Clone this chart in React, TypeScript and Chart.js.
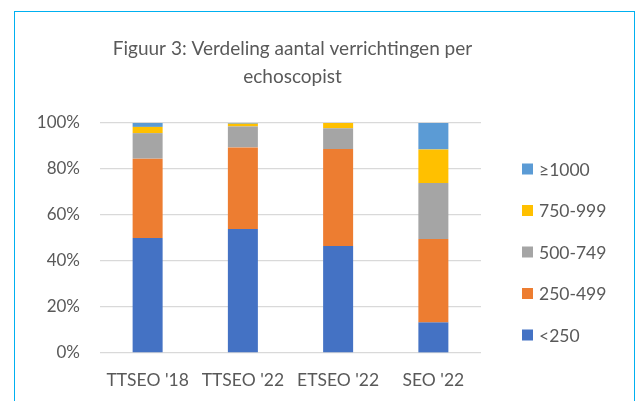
import React, { useEffect, useRef } from "react";
import { Chart, registerables } from "chart.js";

Chart.register(...registerables);

const categories = ["TTSEO '18", "TTSEO '22", "ETSEO '22", "SEO '22"];
const seriesNames = ["<250", "250-499", "500-749", "750-999", "≥1000"];
const lt250 = [50.0, 53.9, 46.5, 13.3];
const r250_499 = [34.5, 35.5, 42.2, 36.3];
const r500_749 = [11.1, 9.1, 9.0, 24.3];
const r750_999 = [2.7, 1.2, 2.3, 14.6];
const ge1000 = [1.7, 0.3, 0.0, 11.5];
const colors = ["#4472C4", "#ED7D31", "#A5A5A5", "#FFC000", "#5B9BD5"];
const titleLines = ["Figuur 3: Verdeling aantal verrichtingen per", "echoscopist"];
const yTicks = [0, 20, 40, 60, 80, 100];

const FONT = "Lato, 'Open Sans', sans-serif";
const TEXT = "#595959";

const titlePlugin = {
  id: "customTitle",
  afterDraw(chart: any) {
    const ctx = chart.ctx;
    ctx.save();
    ctx.fillStyle = TEXT;
    ctx.font = `19px ${FONT}`;
    ctx.textAlign = "center";
    ctx.textBaseline = "alphabetic";
    const cx = (chart.chartArea.left + chart.chartArea.right) / 2 + 2;
    titleLines.forEach((l, i) => ctx.fillText(l, cx, 55 + i * 28));
    ctx.restore();
  },
};

const legendPlugin = {
  id: "customLegend",
  afterDraw(chart: any) {
    const ctx = chart.ctx;
    const ds = chart.data.datasets;
    const x = chart.chartArea.right + 41;
    const y0 = 169;
    const gap = 41.5;
    ctx.save();
    ctx.font = `17.5px ${FONT}`;
    ctx.textBaseline = "middle";
    ctx.textAlign = "left";
    for (let k = 0; k < ds.length; k++) {
      const d = ds[ds.length - 1 - k];
      const y = y0 + k * gap;
      ctx.fillStyle = d.backgroundColor;
      ctx.fillRect(x, y - 5.5, 11, 11);
      ctx.fillStyle = TEXT;
      ctx.fillText(d.label, x + 17, y + 1);
    }
    ctx.restore();
  },
};

export default function App() {
  const ref = useRef<HTMLCanvasElement>(null);
  useEffect(() => {
    const values = [lt250, r250_499, r500_749, r750_999, ge1000];
    const chart = new Chart(ref.current!, {
      type: "bar",
      data: {
        labels: categories,
        datasets: values.map((v, i) => ({
          label: seriesNames[i],
          data: v,
          backgroundColor: colors[i],
          borderWidth: 0,
          categoryPercentage: 1,
          barPercentage: 0.315,
        })),
      },
      options: {
        responsive: false,
        animation: false,
        devicePixelRatio: 1,
        layout: { padding: { top: 123, right: 161, bottom: 0, left: 0 } },
        plugins: {
          legend: { display: false },
          title: { display: false },
          tooltip: { enabled: false },
        },
        scales: {
          x: {
            stacked: true,
            grid: { display: false, drawTicks: false },
            border: { display: false },
            ticks: { color: TEXT, font: { family: FONT, size: 17.5 }, padding: 17, maxRotation: 0 },
            afterFit: (s: any) => { s.height = 48; },
          },
          y: {
            stacked: true,
            min: 0,
            max: 100,
            afterBuildTicks: (s: any) => { s.ticks = yTicks.map((v) => ({ value: v })); },
            grid: { color: "#D9D9D9", lineWidth: 1.3, drawTicks: false },
            border: { display: false },
            ticks: {
              color: TEXT,
              font: { family: FONT, size: 17 },
              padding: 20,
              callback: (v: any) => `${v}%`,
            },
            afterFit: (s: any) => { s.width = 100; },
          },
        },
      },
      plugins: [titlePlugin, legendPlugin],
    });
    return () => chart.destroy();
  }, []);
  return (
    <div style={{ position: "fixed", left: 0, top: 0, width: 642, height: 401, background: "#fff" }}>
      <div
        style={{
          position: "absolute",
          left: 13.5,
          top: 10.5,
          width: 621,
          height: 420,
          border: "1.7px solid #00B0F0",
          boxSizing: "border-box",
        }}
      />
      <canvas ref={ref} width={642} height={401} style={{ position: "absolute", left: 0, top: 0 }} />
    </div>
  );
}
